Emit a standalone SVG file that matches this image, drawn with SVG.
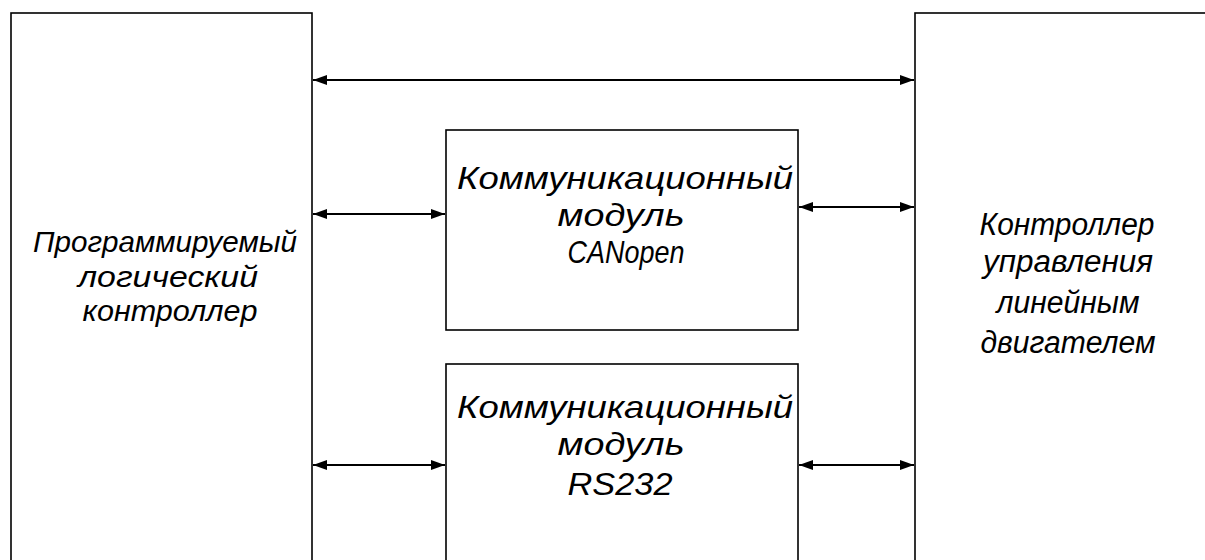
<svg xmlns="http://www.w3.org/2000/svg" width="1205" height="560" viewBox="0 0 1205 560">
<style>
.box{fill:#fff;stroke:#000;stroke-width:1.6}
.ln{stroke:#000;stroke-width:2;fill:none;marker-start:url(#ah);marker-end:url(#ah)}
text{font-family:"Liberation Sans",Arial,sans-serif;font-style:italic;fill:#000;text-anchor:middle}
.m{font-size:32px}
.s{font-size:29px}
.r{font-size:31px}
</style>
<defs>
<marker id="ah" viewBox="0 0 14 10" refX="14" refY="5" markerWidth="14" markerHeight="10" markerUnits="userSpaceOnUse" orient="auto-start-reverse">
<path d="M0,0 L14,5 L0,10 z" fill="#000"/>
</marker>
</defs>
<rect width="1205" height="560" fill="#fff"/>
<g id="plc">
<rect class="box" x="11" y="13" width="301" height="600"/>
<text class="s" x="165" y="252" textLength="264" lengthAdjust="spacingAndGlyphs">Программируемый</text>
<text class="s" x="168" y="287" textLength="180" lengthAdjust="spacingAndGlyphs">логический</text>
<text class="s" x="170" y="321" textLength="175" lengthAdjust="spacingAndGlyphs">контроллер</text>
</g>
<g id="motor">
<rect class="box" x="915" y="13" width="320" height="600"/>
<text class="r" x="1067" y="235" textLength="175" lengthAdjust="spacingAndGlyphs">Контроллер</text>
<text class="r" x="1068" y="272" textLength="170" lengthAdjust="spacingAndGlyphs">управления</text>
<text class="r" x="1068" y="313" textLength="143" lengthAdjust="spacingAndGlyphs">линейным</text>
<text class="r" x="1068" y="353" textLength="175" lengthAdjust="spacingAndGlyphs">двигателем</text>
</g>
<g id="canopen">
<rect class="box" x="446" y="130" width="352" height="200"/>
<text class="m" x="625" y="189" textLength="336" lengthAdjust="spacingAndGlyphs">Коммуникационный</text>
<text class="m" x="621" y="226" textLength="127" lengthAdjust="spacingAndGlyphs">модуль</text>
<text class="m" x="626" y="263" textLength="117" lengthAdjust="spacingAndGlyphs">CANopen</text>
</g>
<g id="rs232">
<rect class="box" x="446" y="364" width="352" height="250"/>
<text class="m" x="625" y="418" textLength="336" lengthAdjust="spacingAndGlyphs">Коммуникационный</text>
<text class="m" x="621" y="455" textLength="127" lengthAdjust="spacingAndGlyphs">модуль</text>
<text class="m" x="620" y="495" textLength="105" lengthAdjust="spacingAndGlyphs">RS232</text>
</g>
<g id="connectors">
<line class="ln" x1="313" y1="80" x2="914" y2="80"/>
<line class="ln" x1="313" y1="214" x2="445" y2="214"/>
<line class="ln" x1="799" y1="207" x2="914" y2="207"/>
<line class="ln" x1="313" y1="465" x2="445" y2="465"/>
<line class="ln" x1="799" y1="465" x2="914" y2="465"/>
</g>
</svg>
